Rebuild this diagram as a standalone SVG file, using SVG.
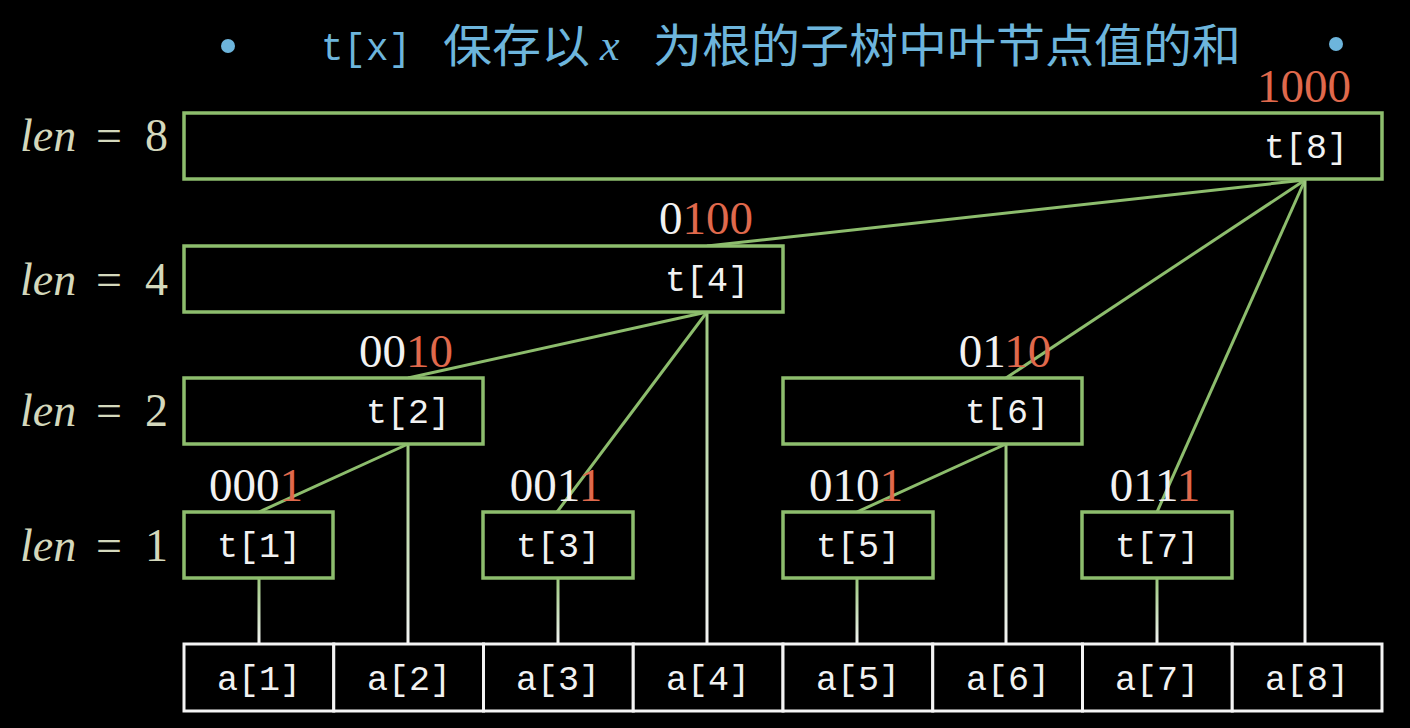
<svg xmlns="http://www.w3.org/2000/svg" width="1410" height="728" viewBox="0 0 1410 728">
<defs>
<style>
.box{fill:#000;stroke:#8dbd6d;stroke-width:3.5}
.cell{fill:#000;stroke:#f4f4f4;stroke-width:3}
.mono{font-family:"Liberation Mono","DejaVu Sans Mono",monospace;fill:#f2f2f2;font-size:35px;text-anchor:middle}
.bin{font-family:"Liberation Serif","DejaVu Serif",serif;font-size:47px;text-anchor:middle;fill:#f2f2f2}
.hi{fill:#e0694c}
.len{font-family:"Liberation Serif","DejaVu Serif",serif;font-size:46px;fill:#d4d8bc}
.len .it{font-style:italic}
.edge{stroke:#8dbd6d;stroke-width:3;fill:none}
.ttl{fill:#6db5dc;font-size:46px;font-family:"Noto Sans CJK SC","Liberation Sans",sans-serif}
</style>
<linearGradient id="vg" x1="0" y1="0" x2="0" y2="1">
<stop offset="0" stop-color="#9cc77e"/>
<stop offset="1" stop-color="#f4f4f4"/>
</linearGradient>
</defs>
<rect width="1410" height="728" fill="#000"/>

<g id="title">
<circle cx="228" cy="46" r="7" fill="#6db5dc"/>
<circle cx="1336" cy="44" r="7" fill="#6db5dc"/>
<text x="321" y="60" class="ttl" style="font-family:'Liberation Mono',monospace;font-size:39px" textLength="90" lengthAdjust="spacingAndGlyphs">t[x]</text>
<text x="443" y="62" class="ttl" textLength="147" lengthAdjust="spacingAndGlyphs">保存以</text>
<text x="600" y="60" class="ttl" style="font-family:'Liberation Serif',serif;font-style:italic;font-size:44px">x</text>
<text x="653" y="62" class="ttl" textLength="588" lengthAdjust="spacingAndGlyphs">为根的子树中叶节点值的和</text>
</g>

<g id="len-labels" class="len">
<text y="151"><tspan class="it" x="20">len</tspan><tspan x="96">=</tspan><tspan x="145">8</tspan></text>
<text y="295"><tspan class="it" x="20">len</tspan><tspan x="96">=</tspan><tspan x="145">4</tspan></text>
<text y="426"><tspan class="it" x="20">len</tspan><tspan x="96">=</tspan><tspan x="145">2</tspan></text>
<text y="561"><tspan class="it" x="20">len</tspan><tspan x="96">=</tspan><tspan x="145">1</tspan></text>
</g>

<g id="connectors">
<line class="edge" x1="1305" y1="180" x2="707" y2="246"/>
<line class="edge" x1="1305" y1="180" x2="1006" y2="378"/>
<line class="edge" x1="1305" y1="180" x2="1157" y2="512"/>
<line class="edge" x1="707" y1="312" x2="408" y2="378"/>
<line class="edge" x1="707" y1="312" x2="557" y2="512"/>
<line class="edge" x1="408" y1="444" x2="259" y2="512"/>
<line class="edge" x1="1006" y1="444" x2="857" y2="512"/>
<rect x="1303.5" y="180" width="3" height="464" fill="url(#vg)"/>
<rect x="705.5" y="312" width="3" height="332" fill="url(#vg)"/>
<rect x="406.5" y="444" width="3" height="200" fill="url(#vg)"/>
<rect x="1004.5" y="444" width="3" height="200" fill="url(#vg)"/>
<rect x="257.5" y="578" width="3" height="66" fill="url(#vg)"/>
<rect x="556.5" y="578" width="3" height="66" fill="url(#vg)"/>
<rect x="855.5" y="578" width="3" height="66" fill="url(#vg)"/>
<rect x="1155.5" y="578" width="3" height="66" fill="url(#vg)"/>
</g>

<g id="t8">
<rect class="box" x="184" y="113" width="1198" height="66"/>
<text class="mono" x="1306" y="158">t[8]</text>
<text class="bin" x="1304" y="102"><tspan class="hi">1000</tspan></text>
</g>
<g id="t4">
<rect class="box" x="184" y="246" width="599" height="66"/>
<text class="mono" x="707" y="291">t[4]</text>
<text class="bin" x="706" y="234">0<tspan class="hi">100</tspan></text>
</g>
<g id="t2">
<rect class="box" x="184" y="378" width="299" height="66"/>
<text class="mono" x="408" y="423">t[2]</text>
<text class="bin" x="406" y="367">00<tspan class="hi">10</tspan></text>
</g>
<g id="t6">
<rect class="box" x="783" y="378" width="299" height="66"/>
<text class="mono" x="1007" y="423">t[6]</text>
<text class="bin" x="1005" y="367">01<tspan class="hi">10</tspan></text>
</g>
<g id="t1">
<rect class="box" x="184" y="512" width="149" height="66"/>
<text class="mono" x="259" y="557">t[1]</text>
<text class="bin" x="256" y="501">000<tspan class="hi">1</tspan></text>
</g>
<g id="t3">
<rect class="box" x="483" y="512" width="150" height="66"/>
<text class="mono" x="558" y="557">t[3]</text>
<text class="bin" x="556" y="501">001<tspan class="hi">1</tspan></text>
</g>
<g id="t5">
<rect class="box" x="783" y="512" width="150" height="66"/>
<text class="mono" x="858" y="557">t[5]</text>
<text class="bin" x="856" y="501">010<tspan class="hi">1</tspan></text>
</g>
<g id="t7">
<rect class="box" x="1082" y="512" width="150" height="66"/>
<text class="mono" x="1157" y="557">t[7]</text>
<text class="bin" x="1155" y="501">011<tspan class="hi">1</tspan></text>
</g>

<g id="array">
<rect class="cell" x="184" y="644" width="149.75" height="67"/>
<rect class="cell" x="333.75" y="644" width="149.75" height="67"/>
<rect class="cell" x="483.5" y="644" width="149.75" height="67"/>
<rect class="cell" x="633.25" y="644" width="149.75" height="67"/>
<rect class="cell" x="783" y="644" width="149.75" height="67"/>
<rect class="cell" x="932.75" y="644" width="149.75" height="67"/>
<rect class="cell" x="1082.5" y="644" width="149.75" height="67"/>
<rect class="cell" x="1232.25" y="644" width="149.75" height="67"/>
<text class="mono" x="259" y="690">a[1]</text>
<text class="mono" x="409" y="690">a[2]</text>
<text class="mono" x="558" y="690">a[3]</text>
<text class="mono" x="708" y="690">a[4]</text>
<text class="mono" x="858" y="690">a[5]</text>
<text class="mono" x="1008" y="690">a[6]</text>
<text class="mono" x="1157" y="690">a[7]</text>
<text class="mono" x="1307" y="690">a[8]</text>
</g>
</svg>
